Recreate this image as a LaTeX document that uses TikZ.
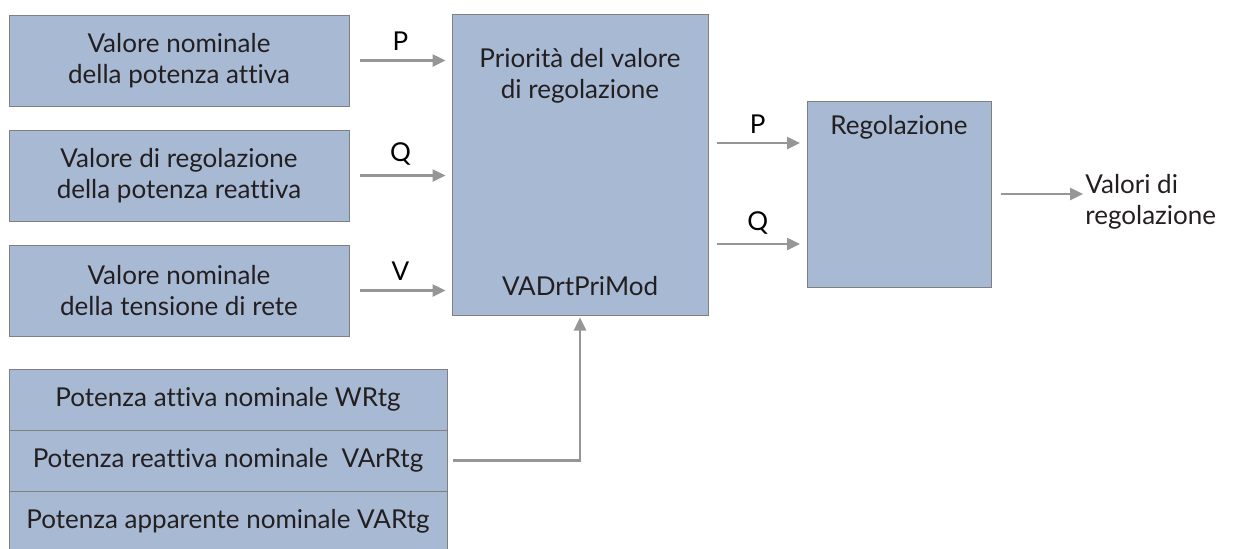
\documentclass[tikz,border=0pt]{standalone}
\usepackage{fontspec}
\setmainfont{Lato}[Ligatures=NoCommon]
\usepackage{xcolor}
\usetikzlibrary{positioning, arrows.meta}
\definecolor{boxblue}{RGB}{168,185,212}
\definecolor{edgegray}{RGB}{128,128,128}
\definecolor{linegray}{RGB}{150,150,150}
\definecolor{textdark}{RGB}{35,31,32}

\begin{document}
\begin{tikzpicture}[x=0.5pt, y=-0.5pt, font=\fontsize{13}{15.5}\selectfont, text=textdark,
        block/.style={draw=edgegray, line width=0.5pt, fill=boxblue, inner sep=0pt, align=center},
        inbox/.style={block, minimum width=170pt, minimum height=45.5pt},
        rowbox/.style={block, minimum width=219pt, minimum height=30.5pt},
        flow/.style={draw=linegray, line width=1.25pt, -{Triangle[length=6.5pt, width=6pt]}}]
        \clip (0,0) rectangle (1238,548);

        % inputs
        \node[inbox] (pset) at (179,60.5) {Valore nominale\\della potenza attiva};
        \node[inbox] (qset) at (179,175.5) {Valore di regolazione\\della potenza reattiva};
        \node[inbox] (vset) at (179,290.5) {Valore nominale\\della tensione di rete};

        % nominal values
        \node[rowbox] (wrtg) at (228,399.5) {Potenza attiva nominale WRtg};
        \node[rowbox] (varrtg) at (228,460.5) {Potenza reattiva nominale\ \ VArRtg};
        \node[rowbox] (vartg) at (228,521.5) {Potenza apparente nominale VARtg};

        % priority block
        \node[block, minimum width=128pt, minimum height=150.5pt] (prio) at (580,164.5) {};
        \node[align=center] (priotxt) at (580,76) {Priorit\`a del valore\\di regolazione};
        \node (priomod) at (580,286) {VADrtPriMod};

        % control block
        \node[block, minimum width=92pt, minimum height=93pt] (reg) at (899,194) {};
        \node (regtxt) at (899,127) {Regolazione};
        \node[anchor=west, inner sep=0pt, align=left] (out) at (1085,202) {Valori di\\regolazione};

        \draw[flow, shorten <=5pt, shorten >=3pt] (pset.east) -- (pset.east -| prio.west) node[midway, above=1pt, black] {P};
        \draw[flow, shorten <=5pt, shorten >=3pt] (qset.east) -- (qset.east -| prio.west) node[midway, above=1pt, black] {Q};
        \draw[flow, shorten <=5pt, shorten >=3pt] (vset.east) -- (vset.east -| prio.west) node[midway, above=1pt, black] {V};

        \coordinate (pin) at (807,143);
        \coordinate (qin) at (807,244);
        \draw[flow, shorten <=4pt, shorten >=3.5pt] (prio.east |- pin) -- (pin) node[midway, above=1pt, black] {P};
        \draw[flow, shorten <=4pt, shorten >=3.5pt] (prio.east |- qin) -- (qin) node[midway, above=1pt, black] {Q};

        \draw[flow, shorten <=4.5pt, shorten >=1pt] (reg.east) -- (reg.east -| out.west);
        \draw[flow, shorten <=2.5pt, shorten >=1pt] (varrtg.east) -| (prio.south);
    \end{tikzpicture}
\end{document}
